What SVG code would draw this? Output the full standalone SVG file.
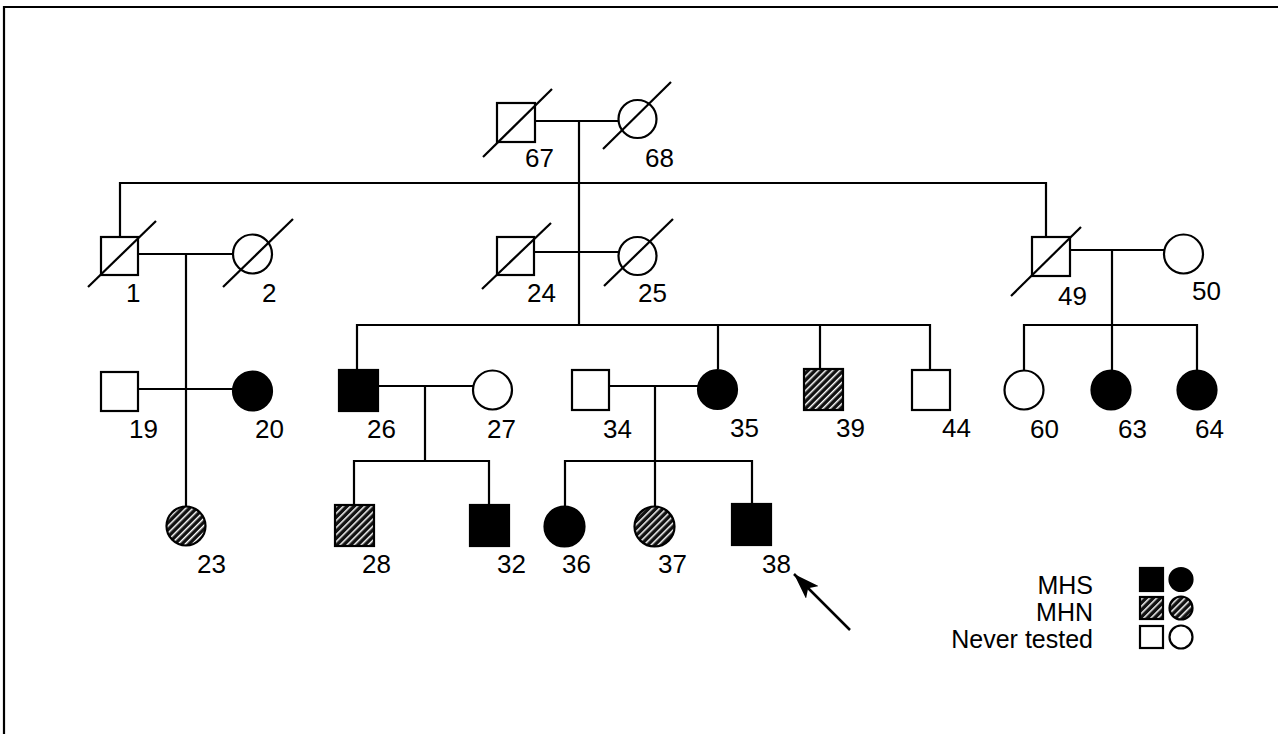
<svg xmlns="http://www.w3.org/2000/svg" width="1278" height="734" viewBox="0 0 1278 734">
<style>
.ln{stroke:#000;stroke-width:2.2;fill:none}
.sym{stroke:#000;stroke-width:2.2;fill:#fff}
.aff{stroke:#000;stroke-width:2.2;fill:#000}
.mhn{stroke:#000;stroke-width:2.2;fill:url(#hatch)}
.dec{stroke:#000;stroke-width:2.2}
text{font-family:"Liberation Sans",Arial,sans-serif;font-size:26px;fill:#000}
.lg{text-anchor:end;font-size:25px}
</style>
<defs>
<pattern id="hatch" patternUnits="userSpaceOnUse" width="5" height="5" patternTransform="rotate(-45)">
<rect width="5" height="5" fill="#111"/>
<rect x="0" y="0" width="5" height="1.5" fill="#fff"/>
</pattern>
<marker id="arr" viewBox="0 0 26 18" refX="26" refY="9" markerWidth="26" markerHeight="18" markerUnits="userSpaceOnUse" orient="auto">
<path d="M0,0 L26,9 L0,18 L6,9 z" fill="#000"/>
</marker>
</defs>
<rect width="1278" height="734" fill="#fff"/>
<path class="ln" d="M4,734 V7 H1278"/>
<g id="connectors">
<path class="ln" d="M535,121 H619"/>
<path class="ln" d="M579,121 V325"/>
<path class="ln" d="M120,237 V183 H1046 V237"/>
<path class="ln" d="M138,254 H233"/>
<path class="ln" d="M186,254 V507"/>
<path class="ln" d="M138,389 H233"/>
<path class="ln" d="M534,252 H619"/>
<path class="ln" d="M357,370 V325 H930 V370"/>
<path class="ln" d="M718,325 V369"/>
<path class="ln" d="M820,325 V369"/>
<path class="ln" d="M378,386 H473"/>
<path class="ln" d="M425,386 V461"/>
<path class="ln" d="M354,505 V461 H489 V505"/>
<path class="ln" d="M609,386 H698"/>
<path class="ln" d="M655,386 V506"/>
<path class="ln" d="M565,506 V461 H752 V504"/>
<path class="ln" d="M1070,250 H1164"/>
<path class="ln" d="M1112,250 V370"/>
<path class="ln" d="M1024,370 V325 H1197 V370"/>
<path class="ln" style="stroke-width:2.5" d="M850,630 L794,574" marker-end="url(#arr)"/>
</g>
<g id="n67"><rect class="sym" x="497" y="103" width="38" height="39"/><line class="dec" x1="483" y1="157" x2="552" y2="89"/><text x="525" y="167">67</text></g>
<g id="n68"><circle class="sym" cx="637.5" cy="119" r="19"/><line class="dec" x1="603" y1="149" x2="671" y2="82"/><text x="645" y="167">68</text></g>
<g id="n1"><rect class="sym" x="101" y="237" width="37" height="38"/><line class="dec" x1="88" y1="287" x2="156" y2="221"/><text x="126" y="302">1</text></g>
<g id="n2"><circle class="sym" cx="252.5" cy="254" r="19.5"/><line class="dec" x1="223" y1="287" x2="293" y2="219"/><text x="262" y="302">2</text></g>
<g id="n24"><rect class="sym" x="497" y="237" width="37" height="38"/><line class="dec" x1="482" y1="289" x2="551" y2="223"/><text x="527" y="302">24</text></g>
<g id="n25"><circle class="sym" cx="637.5" cy="256" r="19"/><line class="dec" x1="604" y1="286" x2="673" y2="219"/><text x="638" y="302">25</text></g>
<g id="n49"><rect class="sym" x="1032" y="237" width="38" height="39"/><line class="dec" x1="1011" y1="296" x2="1081" y2="227"/><text x="1058" y="305">49</text></g>
<g id="n50"><circle class="sym" cx="1183.5" cy="254" r="19.5"/><text x="1192" y="300">50</text></g>
<g id="n19"><rect class="sym" x="101" y="372" width="37" height="39"/><text x="129" y="438">19</text></g>
<g id="n20"><circle class="aff" cx="252.5" cy="391" r="19.5"/><text x="255" y="438">20</text></g>
<g id="n26"><rect class="aff" x="339" y="370" width="39" height="41"/><text x="367" y="438">26</text></g>
<g id="n27"><circle class="sym" cx="492.5" cy="390" r="19.5"/><text x="487" y="438">27</text></g>
<g id="n34"><rect class="sym" x="572" y="370" width="37" height="40"/><text x="603" y="438">34</text></g>
<g id="n35"><circle class="aff" cx="717.5" cy="389.5" r="19.5"/><text x="730" y="437">35</text></g>
<g id="n39"><rect class="mhn" x="804" y="369" width="39" height="41"/><text x="836" y="437">39</text></g>
<g id="n44"><rect class="sym" x="912" y="370" width="38" height="40"/><text x="942" y="437">44</text></g>
<g id="n60"><circle class="sym" cx="1024" cy="390" r="19.5"/><text x="1030" y="438">60</text></g>
<g id="n63"><circle class="aff" cx="1111" cy="390" r="19.5"/><text x="1118" y="438">63</text></g>
<g id="n64"><circle class="aff" cx="1197" cy="390" r="19.5"/><text x="1195" y="438">64</text></g>
<g id="n23"><circle class="mhn" cx="186" cy="526" r="19.5"/><text x="197" y="573">23</text></g>
<g id="n28"><rect class="mhn" x="335" y="505" width="39" height="41"/><text x="362" y="573">28</text></g>
<g id="n32"><rect class="aff" x="470" y="505" width="39" height="41"/><text x="497" y="573">32</text></g>
<g id="n36"><circle class="aff" cx="564.5" cy="526.5" r="20"/><text x="562" y="573">36</text></g>
<g id="n37"><circle class="mhn" cx="654.5" cy="526.5" r="20"/><text x="658" y="573">37</text></g>
<g id="n38"><rect class="aff" x="732" y="504" width="39" height="41"/><text x="762" y="573">38</text></g>
<g id="legend">
<text class="lg" x="1093" y="594">MHS</text>
<text class="lg" x="1093" y="621">MHN</text>
<text class="lg" x="1093" y="648">Never tested</text>
<rect class="aff" x="1140" y="568" width="23" height="23"/>
<circle class="aff" cx="1181" cy="579.5" r="11.5"/>
<rect class="mhn" x="1140" y="597" width="23" height="22"/>
<circle class="mhn" cx="1181" cy="608" r="11.5"/>
<rect class="sym" x="1140" y="626" width="23" height="22"/>
<circle class="sym" cx="1181" cy="637" r="11.5"/>
</g>
</svg>
